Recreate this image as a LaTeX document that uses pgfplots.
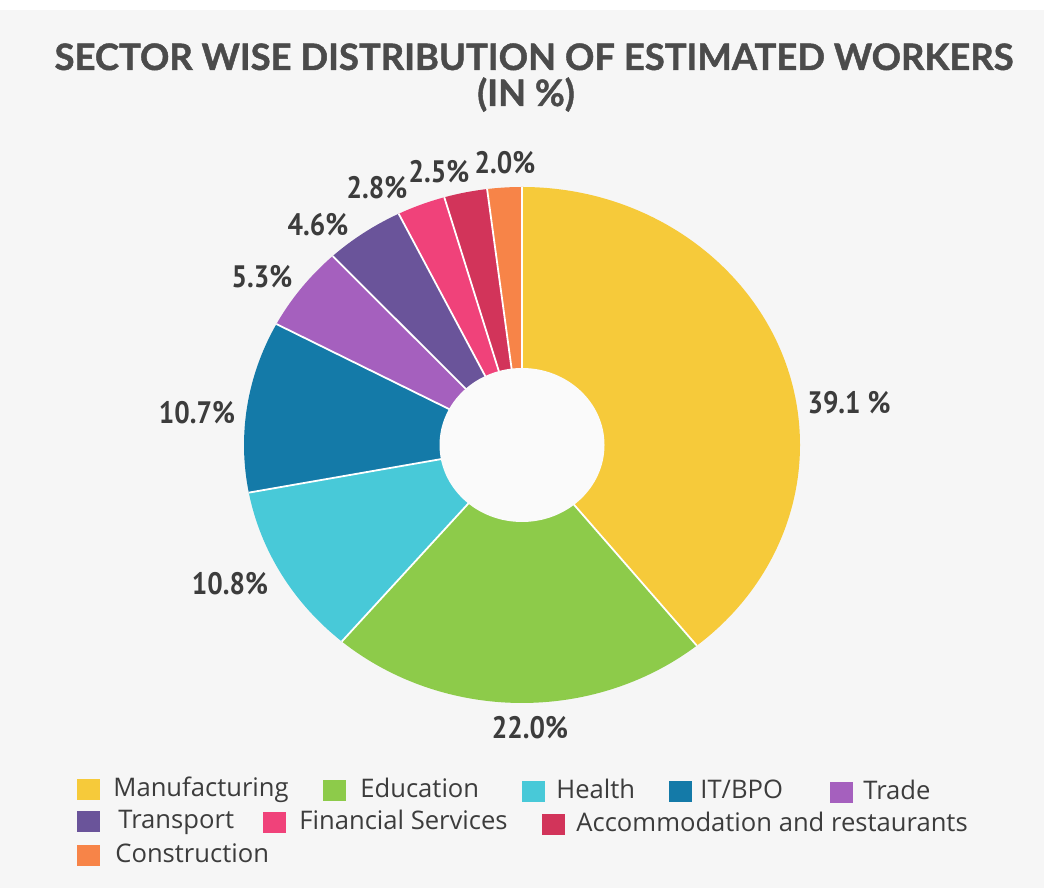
\documentclass[border=0pt]{standalone}
\usepackage{pgfplots}
\pgfplotsset{compat=1.18}
\usepackage{pgfplotstable}
\usepackage{fontspec}
\setmainfont{Open Sans}
\newfontfamily\lblfont{PT Sans}[FakeStretch=0.88]
\newfontfamily\titlefont{Lato}[FakeBold=1.2]

\definecolor{bg}{RGB}{246,246,246}
\definecolor{cManu}{RGB}{246,202,58}
\definecolor{cEdu}{RGB}{141,203,74}
\definecolor{cHealth}{RGB}{72,201,216}
\definecolor{cIT}{RGB}{20,122,168}
\definecolor{cTrade}{RGB}{165,96,190}
\definecolor{cTrans}{RGB}{106,84,154}
\definecolor{cFin}{RGB}{240,66,122}
\definecolor{cAcc}{RGB}{210,52,90}
\definecolor{cCons}{RGB}{247,132,72}
\definecolor{txt}{RGB}{60,60,60}
\definecolor{ttl}{RGB}{75,75,75}

% sector data: value in %, colour, label position (px), legend square (left px, centre px), legend text (left px, baseline px)
\pgfplotstableread[col sep=comma]{
name,value,col,lx,ly,gap,sqx,sqy,tx,ty
Manufacturing,39.1,cManu,849,403,1,77,790,113,797
Education,22.0,cEdu,530,728,0,323,791,360,798
Health,10.8,cHealth,230,584,0,522,792,556,799
IT/BPO,10.7,cIT,197,413,0,669,792,700,799
Trade,5.3,cTrade,262,277,0,830,793,863,800
Transport,4.6,cTrans,318,225,0,77,822,118,829
Financial Services,2.8,cFin,377,188,0,263,823,299,830
Accommodation and restaurants,2.5,cAcc,439,172,0,542,825,576,832
Construction,2.0,cCons,505,163,0,77,856,115,863
}\sectors

\begin{document}
\begin{tikzpicture}
\begin{axis}[
  width=522pt, height=444pt, scale only axis, hide axis,
  xmin=0, xmax=1044, ymin=0, ymax=888, clip=false]
\fill[bg] (axis cs:0,0) rectangle (axis cs:1044,888);
\fill[white] (axis cs:0,878) rectangle (axis cs:1044,888);
% title
\node[anchor=base, inner sep=0, text=ttl,
  font=\titlefont\bfseries\fontsize{18.2}{20}\selectfont]
  at (axis cs:534,818) {SECTOR WISE DISTRIBUTION OF ESTIMATED WORKERS};
\node[anchor=base, inner sep=0, text=ttl,
  font=\titlefont\bfseries\fontsize{18.2}{20}\selectfont]
  at (axis cs:526,782) {(IN \%)};
% wedges
\def\cumval{0}
\pgfplotsforeachungrouped \i in {0,...,8}{%
  \pgfplotstablegetelem{\i}{value}\of\sectors \let\segval\pgfplotsretval
  \pgfplotstablegetelem{\i}{col}\of\sectors \let\segcol\pgfplotsretval
  \pgfmathsetmacro\angA{90-\cumval*3.6/0.998}%
  \pgfmathsetmacro\cumval{\cumval+\segval}%
  \pgfmathsetmacro\angB{90-\cumval*3.6/0.998}%
  \edef\temp{\noexpand\fill[\segcol] (axis cs:522,443) -- ++(\angA:139pt and 129pt)
    arc[start angle=\angA, end angle=\angB, x radius=139pt, y radius=129pt] -- cycle;}%
  \temp
}
% separators
\def\cumval{0}
\pgfplotsforeachungrouped \i in {0,...,8}{%
  \pgfplotstablegetelem{\i}{value}\of\sectors \let\segval\pgfplotsretval
  \pgfmathsetmacro\angA{90-\cumval*3.6/0.998}%
  \pgfmathsetmacro\cumval{\cumval+\segval}%
  \edef\temp{\noexpand\draw[white, line width=0.9pt] (axis cs:522,443) -- ++(\angA:139pt and 129pt);}%
  \temp
}
% hole
\fill[bg!50!white] (axis cs:522,443) ellipse [x radius=41.25pt, y radius=38.5pt];
% labels and legend
\pgfplotsforeachungrouped \i in {0,...,8}{%
  \pgfplotstablegetelem{\i}{value}\of\sectors \let\segval\pgfplotsretval
  \pgfplotstablegetelem{\i}{col}\of\sectors \let\segcol\pgfplotsretval
  \pgfplotstablegetelem{\i}{name}\of\sectors \let\segname\pgfplotsretval
  \pgfplotstablegetelem{\i}{lx}\of\sectors \let\lx\pgfplotsretval
  \pgfplotstablegetelem{\i}{ly}\of\sectors \pgfmathsetmacro\lyy{888-\pgfplotsretval}%
  \pgfplotstablegetelem{\i}{gap}\of\sectors \let\gapv\pgfplotsretval
  \pgfplotstablegetelem{\i}{sqx}\of\sectors \let\sqx\pgfplotsretval
  \pgfmathsetmacro\sqxb{\sqx+23}%
  \pgfplotstablegetelem{\i}{sqy}\of\sectors
  \pgfmathsetmacro\sqya{888-\pgfplotsretval-10.5}%
  \pgfmathsetmacro\sqyb{888-\pgfplotsretval+10.5}%
  \pgfplotstablegetelem{\i}{tx}\of\sectors \let\tx\pgfplotsretval
  \pgfplotstablegetelem{\i}{ty}\of\sectors \pgfmathsetmacro\tyy{888-\pgfplotsretval}%
  \edef\temp{%
    \noexpand\node[inner sep=0, text=txt,
      font=\noexpand\lblfont\noexpand\bfseries\noexpand\fontsize{15.5}{18}\noexpand\selectfont]
      at (axis cs:\lx,\lyy) {\segval\ifnum\gapv=1 \space\fi\noexpand\%};
    \noexpand\fill[\segcol] (axis cs:\sqx,\sqya) rectangle (axis cs:\sqxb,\sqyb);
    \noexpand\node[anchor=base west, inner sep=0, text=txt,
      font=\noexpand\fontsize{12.8}{15}\noexpand\selectfont]
      at (axis cs:\tx,\tyy) {\segname};
  }%
  \temp
}
\end{axis}
\end{tikzpicture}
\end{document}
